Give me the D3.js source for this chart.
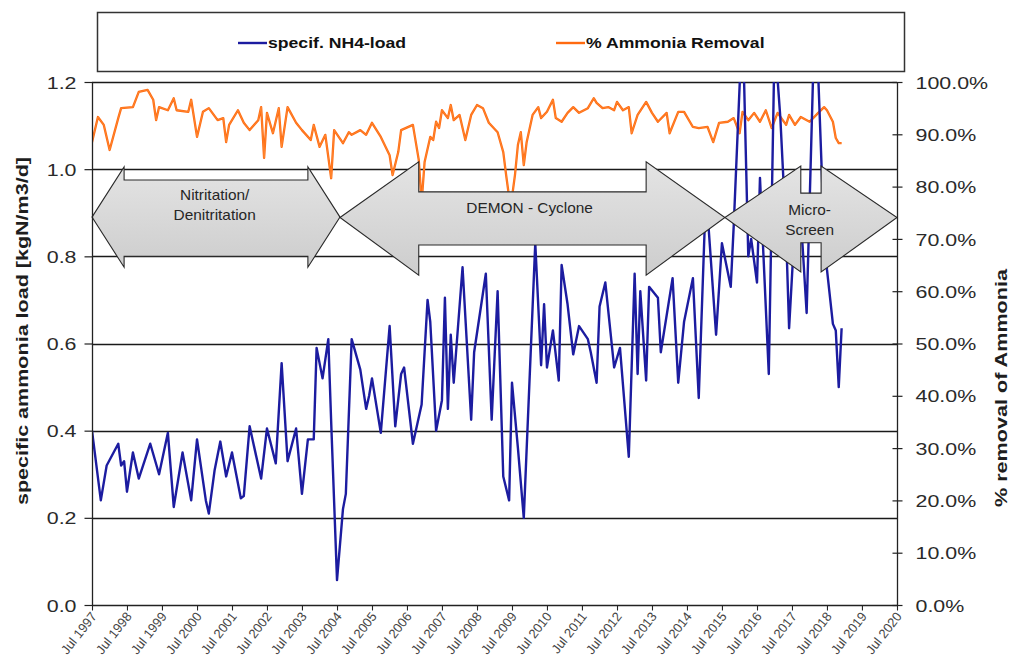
<!DOCTYPE html>
<html><head><meta charset="utf-8">
<script src="https://cdn.jsdelivr.net/npm/d3@7/dist/d3.min.js"></script>
<style>
body{margin:0;background:#fff;}
svg{display:block;font-family:"Liberation Sans",Arial,Helvetica,sans-serif;}
</style></head><body>
<svg id="chart" width="1013" height="666"></svg>
<script>
// ---------------- DATA ----------------
const loadDates = ["1997-07","1997-10","1997-12","1998-04","1998-05","1998-06","1998-07","1998-09","1998-11","1999-03","1999-06","1999-09","1999-11","2000-02","2000-05","2000-07","2000-10","2000-11","2001-01","2001-03","2001-05","2001-07","2001-10","2001-11","2002-01","2002-05","2002-07","2002-10","2002-12","2003-02","2003-05","2003-07","2003-09","2003-11","2003-12","2004-02","2004-04","2004-05","2004-07","2004-09","2004-10","2004-12","2005-03","2005-05","2005-06","2005-07","2005-10","2006-01","2006-03","2006-05","2006-06","2006-09","2006-12","2007-02","2007-03","2007-05","2007-07","2007-08","2007-09","2007-10","2007-11","2008-02","2008-05","2008-06","2008-10","2008-12","2009-02","2009-04","2009-06","2009-07","2009-09","2009-11","2010-03","2010-05","2010-06","2010-07","2010-09","2010-11","2010-12","2011-02","2011-04","2011-06","2011-09","2011-10","2011-12","2012-01","2012-03","2012-06","2012-08","2012-11","2013-01","2013-02","2013-03","2013-05","2013-06","2013-09","2013-10","2014-02","2014-04","2014-06","2014-09","2014-11","2015-01","2015-02","2015-05","2015-07","2015-10","2015-11","2016-02","2016-04","2016-05","2016-07","2016-08","2016-11","2017-01","2017-03","2017-05","2017-06","2017-09","2017-12","2018-03","2018-06","2018-07","2018-09","2018-10","2018-11","2018-12"];
const loadValues = [0.40,0.24,0.32,0.37,0.32,0.33,0.26,0.35,0.29,0.37,0.30,0.395,0.225,0.35,0.24,0.38,0.24,0.21,0.31,0.375,0.295,0.35,0.245,0.25,0.41,0.29,0.405,0.325,0.555,0.33,0.405,0.255,0.38,0.38,0.59,0.52,0.61,0.42,0.057,0.22,0.255,0.61,0.54,0.45,0.48,0.52,0.395,0.64,0.41,0.53,0.545,0.37,0.46,0.70,0.65,0.40,0.47,0.705,0.45,0.62,0.51,0.775,0.425,0.58,0.76,0.425,0.72,0.295,0.24,0.51,0.36,0.20,0.83,0.55,0.69,0.545,0.63,0.515,0.78,0.69,0.575,0.64,0.61,0.58,0.51,0.685,0.74,0.545,0.59,0.34,0.76,0.53,0.72,0.515,0.73,0.705,0.58,0.75,0.51,0.65,0.75,0.475,0.86,0.90,0.62,0.83,0.73,0.87,1.35,0.80,0.84,0.74,0.98,0.53,1.30,1.12,0.85,0.635,1.00,0.67,1.40,0.85,0.77,0.645,0.63,0.50,0.635];

const removalDates = ["1997-07","1997-09","1997-11","1998-01","1998-04","1998-05","1998-09","1998-11","1999-02","1999-04","1999-05","1999-06","1999-09","1999-11","1999-12","2000-04","2000-05","2000-07","2000-09","2000-11","2001-02","2001-04","2001-05","2001-06","2001-09","2001-11","2002-01","2002-04","2002-05","2002-06","2002-07","2002-09","2002-11","2002-12","2003-02","2003-05","2003-07","2003-10","2003-11","2004-01","2004-03","2004-05","2004-06","2004-09","2004-11","2004-12","2005-03","2005-05","2005-07","2005-10","2006-01","2006-02","2006-04","2006-05","2006-09","2006-11","2006-12","2007-01","2007-03","2007-04","2007-05","2007-06","2007-07","2007-09","2007-10","2007-11","2008-01","2008-03","2008-05","2008-07","2008-09","2008-11","2009-02","2009-04","2009-05","2009-06","2009-07","2009-08","2009-09","2009-10","2009-11","2009-12","2010-02","2010-04","2010-05","2010-07","2010-09","2010-10","2010-12","2011-02","2011-04","2011-06","2011-09","2011-11","2011-12","2012-02","2012-04","2012-06","2012-07","2012-09","2012-11","2012-12","2013-02","2013-05","2013-07","2013-09","2013-12","2014-01","2014-04","2014-06","2014-09","2014-11","2015-02","2015-04","2015-06","2015-09","2015-11","2016-01","2016-02","2016-04","2016-06","2016-08","2016-10","2016-12","2017-02","2017-05","2017-06","2017-08","2017-10","2018-01","2018-04","2018-06","2018-07","2018-09","2018-10","2018-11","2018-12"];
const removalValues = [88.5,93.3,91.8,87.0,93.1,95.0,95.2,98.1,98.5,96.6,92.7,95.2,94.6,96.9,94.6,94.3,96.6,89.5,94.3,95.0,92.7,93.1,88.5,91.8,94.6,92.2,90.8,92.7,95.2,85.5,94.1,90.2,95.0,87.6,95.2,92.2,90.8,88.9,91.8,87.6,89.9,81.6,90.8,88.3,90.4,89.9,90.8,89.9,92.2,89.5,86.0,82.2,86.6,90.8,91.8,85.1,77.0,84.7,89.5,88.9,92.4,91.2,94.6,93.1,95.6,92.7,93.7,88.9,93.7,95.6,95.0,92.2,90.4,86.6,82.2,78.0,78.0,82.2,88.0,90.4,84.1,88.5,93.7,95.2,93.1,94.3,96.6,93.1,92.4,94.1,95.2,94.1,95.0,96.9,96.0,95.0,95.2,94.6,96.2,94.6,95.2,90.2,93.7,96.2,94.1,92.4,94.1,90.2,94.3,94.3,91.4,91.2,91.4,88.5,92.2,92.4,93.1,90.2,94.3,92.7,94.1,92.4,94.6,91.2,94.1,91.8,93.7,91.8,93.3,92.4,94.1,95.2,94.6,92.4,89.3,88.3,88.3];

const leftTicks = [0, 0.2, 0.4, 0.6, 0.8, 1.0, 1.2];
const rightTicks = [0, 10, 20, 30, 40, 50, 60, 70, 80, 90, 100];
const xTickDates = ["1997-07","1998-07","1999-07","2000-07","2001-07","2002-07","2003-07","2004-07","2005-07","2006-07","2007-07","2008-07","2009-07","2010-07","2011-07","2012-07","2013-07","2014-07","2015-07","2016-07","2017-07","2018-07","2019-07","2020-07"];
const xTickLabels = ["Jul 1997","Jul 1998","Jul 1999","Jul 2000","Jul 2001","Jul 2002","Jul 2003","Jul 2004","Jul 2005","Jul 2006","Jul 2007","Jul 2008","Jul 2009","Jul 2010","Jul 2011","Jul 2012","Jul 2013","Jul 2014","Jul 2015","Jul 2016","Jul 2017","Jul 2018","Jul 2019","Jul 2020"];
const seriesNames = ["specif. NH4-load", "% Ammonia Removal"];
const phaseLabels = [["Nitritation/","Denitritation"], ["DEMON - Cyclone"], ["Micro-","Screen"]];
const phaseStarts = ["1997-07","2004-08","2015-08"];
const phaseEnds = ["2004-08","2015-08","2020-07"];

// ---------------- LAYOUT ----------------
const plot = {left: 92, right: 897, top: 82, bottom: 605};
const SX = 1.26; // horizontal text stretch of the original
const parse = d3.timeParse("%Y-%m");
const svg = d3.select("#chart");

const x = d3.scaleTime().domain([parse(xTickDates[0]), parse(xTickDates[xTickDates.length-1])]).range([plot.left, plot.right]);
const yL = d3.scaleLinear().domain([0, 1.2]).range([plot.bottom, plot.top]);
const yR = d3.scaleLinear().domain([0, 100]).range([plot.bottom, plot.top]);

const loadData = loadDates.map((d,i)=>({date: parse(d), v: loadValues[i]}));
const remData = removalDates.map((d,i)=>({date: parse(d), v: removalValues[i]}));

const defs = svg.append("defs");
defs.append("clipPath").attr("id","clip").append("rect")
  .attr("x",plot.left).attr("y",plot.top).attr("width",plot.right-plot.left).attr("height",plot.bottom-plot.top);
const grad = defs.append("linearGradient").attr("id","arrowFill").attr("x1",0).attr("y1",0).attr("x2",0).attr("y2",1);
grad.append("stop").attr("offset","0%").attr("stop-color","#e4e4e4");
grad.append("stop").attr("offset","100%").attr("stop-color","#cdcdcd");

// gridlines
svg.append("g").selectAll("line").data(leftTicks.filter(d=>d>0)).join("line")
  .attr("x1",plot.left).attr("x2",plot.right)
  .attr("y1",d=>Math.round(yL(d))+0.5).attr("y2",d=>Math.round(yL(d))+0.5)
  .attr("stroke","#1a1a1a").attr("stroke-width",1.3);

// lines
const gLines = svg.append("g").attr("clip-path","url(#clip)");
gLines.append("path").datum(remData)
  .attr("fill","none").attr("stroke","#ff6a10").attr("stroke-width",2.3).attr("stroke-linejoin","round")
  .attr("d", d3.line().x(d=>x(d.date)).y(d=>yR(d.v)));
gLines.append("path").datum(remData)
  .attr("fill","none").attr("stroke","#ffb060").attr("stroke-width",0.6).attr("stroke-linejoin","round").attr("opacity",0.6)
  .attr("d", d3.line().x(d=>x(d.date)).y(d=>yR(d.v)));
gLines.append("path").datum(loadData)
  .attr("fill","none").attr("stroke","#1c1ca0").attr("stroke-width",2.4).attr("stroke-linejoin","round")
  .attr("d", d3.line().x(d=>x(d.date)).y(d=>yL(d.v)));

// phase arrows (geometry in left-axis units)
const arrowGeom = [
  {tip:0.890, headTop:1.005, shaftTop:0.975, shaftBot:0.800, headBot:0.775, head:11},
  {tip:0.889, headTop:1.017, shaftTop:0.948, shaftBot:0.826, headBot:0.757, head:27},
  {tip:0.889, headTop:1.007, shaftTop:0.945, shaftBot:0.831, headBot:0.764, head:26}
];
const gArrows = svg.append("g");
phaseStarts.forEach((s,i)=>{
  const g = arrowGeom[i];
  const d0 = parse(s), d1 = parse(phaseEnds[i]);
  const x0 = x(d0), x1 = x(d1);
  const h0 = x(d3.timeMonth.offset(d0, g.head)), h1 = x(d3.timeMonth.offset(d1, -g.head));
  const pts = [[x0,yL(g.tip)],[h0,yL(g.headTop)],[h0,yL(g.shaftTop)],[h1,yL(g.shaftTop)],[h1,yL(g.headTop)],
    [x1,yL(g.tip)],[h1,yL(g.headBot)],[h1,yL(g.shaftBot)],[h0,yL(g.shaftBot)],[h0,yL(g.headBot)]];
  gArrows.append("path").attr("d","M"+pts.map(p=>p.join(",")).join("L")+"Z")
    .attr("fill","url(#arrowFill)").attr("stroke","#2a2a2a").attr("stroke-width",1.1).attr("stroke-linejoin","miter");
});
// phase labels
const labelPos = [
  {date:"2001-01", ys:[0.941,0.895]},
  {date:"2010-01", ys:[0.911]},
  {date:"2018-01", ys:[0.906,0.861]}
];
phaseLabels.forEach((lines,i)=>{
  lines.forEach((t,j)=>{
    svg.append("text")
      .attr("transform",`translate(${x(parse(labelPos[i].date))},${yL(labelPos[i].ys[j])}) scale(1.1,1)`)
      .attr("text-anchor","middle").attr("dy","0.35em")
      .attr("font-size",14).attr("fill","#262626").text(t);
  });
});

// frame lines
svg.append("line").attr("x1",plot.left+0.5).attr("x2",plot.left+0.5).attr("y1",plot.top).attr("y2",plot.bottom).attr("stroke","#222").attr("stroke-width",1.3);
svg.append("line").attr("x1",plot.right+0.5).attr("x2",plot.right+0.5).attr("y1",plot.top).attr("y2",plot.bottom+1).attr("stroke","#222").attr("stroke-width",1.3);
svg.append("line").attr("x1",plot.left).attr("x2",plot.right).attr("y1",plot.bottom+0.5).attr("y2",plot.bottom+0.5).attr("stroke","#222").attr("stroke-width",1.3);

// left axis
const axL = svg.append("g").attr("transform",`translate(${plot.left+0.5},0)`)
  .call(d3.axisLeft(yL).tickValues(leftTicks).tickFormat(d3.format(".1f")).tickSize(8).tickSizeOuter(0));
axL.select(".domain").remove();
axL.selectAll(".tick line").attr("stroke","#222").attr("stroke-width",1.2);
axL.selectAll(".tick text").attr("x",null).attr("dy","0.36em")
  .attr("transform",`translate(-16,0) scale(${SX},1)`)
  .attr("font-size",17).attr("font-family","Liberation Sans, Arial, sans-serif").attr("fill","#2a2a2a");

// right axis
const axR = svg.append("g").attr("transform",`translate(${plot.right+0.5},0)`)
  .call(d3.axisRight(yR).tickValues(rightTicks).tickFormat(d=>d.toFixed(1)+"%").tickSize(5).tickSizeOuter(0));
axR.select(".domain").remove();
axR.selectAll(".tick line").attr("x1",-5).attr("x2",5).attr("stroke","#222").attr("stroke-width",1.2);
axR.selectAll(".tick text").attr("x",null).attr("dy","0.36em")
  .attr("transform",`translate(18,0) scale(${SX},1)`)
  .attr("font-size",17).attr("font-family","Liberation Sans, Arial, sans-serif").attr("fill","#2a2a2a");

// bottom axis
const axB = svg.append("g").attr("transform",`translate(0,${plot.bottom+0.5})`)
  .call(d3.axisBottom(x).tickValues(xTickDates.map(parse)).tickFormat((d,i)=>xTickLabels[i]).tickSize(5).tickSizeOuter(0));
axB.select(".domain").remove();
axB.selectAll(".tick line").attr("stroke","#222").attr("stroke-width",1.1);
axB.selectAll(".tick text").attr("y",null).attr("dy",null)
  .attr("text-anchor","end")
  .attr("transform","translate(5,11) rotate(-52)")
  .attr("font-size",13).attr("font-family","Liberation Sans, Arial, sans-serif").attr("fill","#444");

// axis titles
svg.append("text").attr("transform","translate(28,331) rotate(-90)")
  .attr("text-anchor","middle").attr("font-weight","bold").attr("font-size",17).attr("fill","#1e1e1e")
  .attr("textLength",348).attr("lengthAdjust","spacingAndGlyphs")
  .text("specific ammonia load [kgN/m3/d]");
svg.append("text").attr("transform","translate(1007,388) rotate(-90)")
  .attr("text-anchor","middle").attr("font-weight","bold").attr("font-size",17).attr("fill","#1e1e1e")
  .attr("textLength",238).attr("lengthAdjust","spacingAndGlyphs")
  .text("% removal of Ammonia");

// legend
const lg = svg.append("g");
lg.append("rect").attr("x",97.5).attr("y",12.5).attr("width",807).attr("height",59)
  .attr("fill","#fff").attr("stroke","#333").attr("stroke-width",1.5);
const legendItems = [{x:238, color:"#1c1ca0"}, {x:556, color:"#ff6a10"}];
legendItems.forEach((it,i)=>{
  lg.append("line").attr("x1",it.x).attr("x2",it.x+29).attr("y1",43).attr("y2",43)
    .attr("stroke",it.color).attr("stroke-width",2.4);
  lg.append("text").attr("transform",`translate(${it.x+30},43) scale(${SX},1)`).attr("dy","0.36em")
    .attr("font-weight","bold").attr("font-size",14).attr("fill","#111").text(seriesNames[i]);
});
</script>
</body></html>
